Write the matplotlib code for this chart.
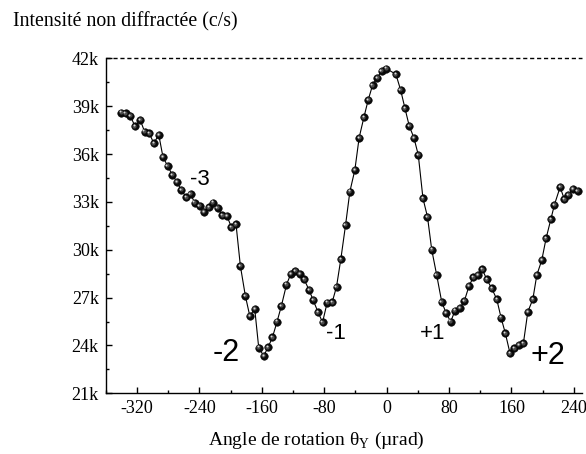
import numpy as np
import matplotlib
matplotlib.use('Agg')
import matplotlib.pyplot as plt
from matplotlib.ticker import MultipleLocator, FuncFormatter
from matplotlib.transforms import offset_copy

plt.rcParams['font.family'] = ['Liberation Serif', 'DejaVu Serif']
plt.rcParams['mathtext.fontset'] = 'custom'
plt.rcParams['mathtext.rm'] = 'Liberation Serif'

# angle (urad) and non diffracted intensity (k c/s)
theta = [-340.1, -334.6, -328.5, -322.4, -315.7, -310.2, -304.2, -298.3, -292.0, -286.7,
         -280.7, -274.6, -268.7, -263.1, -256.7, -251.2, -246.0, -239.6, -234.1, -227.8,
         -222.5, -216.5, -210.7, -204.7, -198.9, -193.0, -187.4, -181.0, -175.4, -169.0,
         -163.9, -157.5, -151.9, -146.3, -140.4, -134.8, -128.3, -122.8, -116.8, -111.3,
         -105.7, -99.3, -94.2, -87.8, -82.1, -76.2, -69.8, -64.2, -58.7, -52.6,
         -47.1, -40.7, -35.2, -29.1, -23.6, -18.0, -12.1, -6.4, -0.6, 11.9,
         18.0, 23.5, 29.0, 35.0, 40.6, 46.6, 52.4, 57.8, 64.2, 70.6,
         76.1, 82.1, 87.7, 94.1, 99.6, 105.6, 111.1, 116.8, 122.7, 128.3,
         134.8, 141.2, 146.7, 152.2, 158.2, 163.8, 169.4, 175.3, 181.0, 187.4,
         192.5, 198.9, 204.4, 210.5, 215.1, 222.4, 227.8, 232.7, 238.7, 244.9]
intens_k = [38.59, 38.55, 38.38, 37.74, 38.13, 37.40, 37.30, 36.67, 37.21, 35.83,
            35.25, 34.70, 34.24, 33.74, 33.29, 33.49, 32.95, 32.74, 32.38, 32.65,
            32.95, 32.61, 32.16, 32.13, 31.41, 31.60, 28.98, 27.10, 25.86, 26.28,
            23.86, 23.35, 23.88, 24.51, 25.49, 26.49, 27.81, 28.48, 28.68, 28.48,
            28.14, 27.47, 26.85, 26.08, 25.45, 26.68, 26.70, 27.68, 29.40, 31.55,
            33.64, 35.00, 37.02, 38.30, 39.39, 40.31, 40.78, 41.20, 41.36, 41.00,
            40.01, 38.87, 37.76, 37.02, 35.94, 33.22, 32.06, 30.01, 28.41, 26.74,
            26.05, 25.49, 26.18, 26.36, 26.78, 27.72, 28.27, 28.41, 28.77, 28.14,
            27.58, 26.89, 25.74, 24.76, 23.50, 23.82, 24.03, 24.13, 26.11, 26.89,
            28.41, 29.35, 30.71, 31.91, 32.82, 33.93, 33.16, 33.43, 33.82, 33.70]
intens = np.array(intens_k) * 1000.

# order labels
lab_text = ['-3', '-2', '-1', '+1', '+2']
lab_x = [-239.6, -205.9, -65.3, 58.5, 206.4]
lab_y = [34430, 23540, 24730, 24730, 23350]
lab_size = [16, 22, 16, 16, 22]

level_max = 42000

fig = plt.figure(figsize=(5.86, 4.54), dpi=100)
ax = fig.add_axes([0.1804, 0.1337, 0.8122, 0.7379])

ax.plot(theta, intens, color='k', lw=0.8, zorder=2)
ax.plot(theta, intens, 'o', ms=5.4, mfc='#0a0a0a', mec='#000000', mew=0.4, zorder=3)
# fake shading of the balls
tr1 = offset_copy(ax.transData, fig=fig, x=-0.6, y=0.6, units='dots')
tr2 = offset_copy(ax.transData, fig=fig, x=-1.2, y=1.2, units='dots')
ax.plot(theta, intens, 'o', ms=3.0, mfc='#4a4a4a', mec='none', transform=tr1, zorder=4)
ax.plot(theta, intens, 'o', ms=1.4, mfc='#d8d8d8', mec='none', transform=tr2, zorder=5)

ax.axhline(level_max, color='k', lw=1.0, ls=(0, (3, 2)), clip_on=False, zorder=1)

for t, x, y, s in zip(lab_text, lab_x, lab_y, lab_size):
    ax.text(x, y, t, fontsize=s, family=['Liberation Sans', 'DejaVu Sans'],
            ha='center', va='center')

ax.set_xlim(-360, 250)
ax.set_ylim(21000, 42000)
ax.xaxis.set_major_locator(MultipleLocator(80))
ax.xaxis.set_minor_locator(MultipleLocator(40))
ax.yaxis.set_major_locator(MultipleLocator(3000))
ax.yaxis.set_minor_locator(MultipleLocator(1500))
ax.yaxis.set_major_formatter(FuncFormatter(lambda v, p: '%dk' % round(v / 1000)))
ax.xaxis.set_major_formatter(FuncFormatter(lambda v, p: '%d' % v))

ax.spines['top'].set_visible(False)
ax.spines['right'].set_visible(False)
for s in ['left', 'bottom']:
    ax.spines[s].set_linewidth(1.0)
ax.tick_params(which='major', direction='in', length=4.5, width=1.0, labelsize=13, pad=5)
ax.tick_params(which='minor', direction='in', length=2.5, width=1.0)

fig.text(316.7 / 586, 1 - 440 / 454, r'Angle de rotation θ$_\mathregular{Y}$ (µrad)',
         fontsize=14, ha='center', va='center')
fig.text(12.7 / 586, 1 - 22 / 454, 'Intensité non diffractée (c/s)',
         fontsize=14.3, ha='left', va='center')

fig.savefig('out.png', dpi=100)
